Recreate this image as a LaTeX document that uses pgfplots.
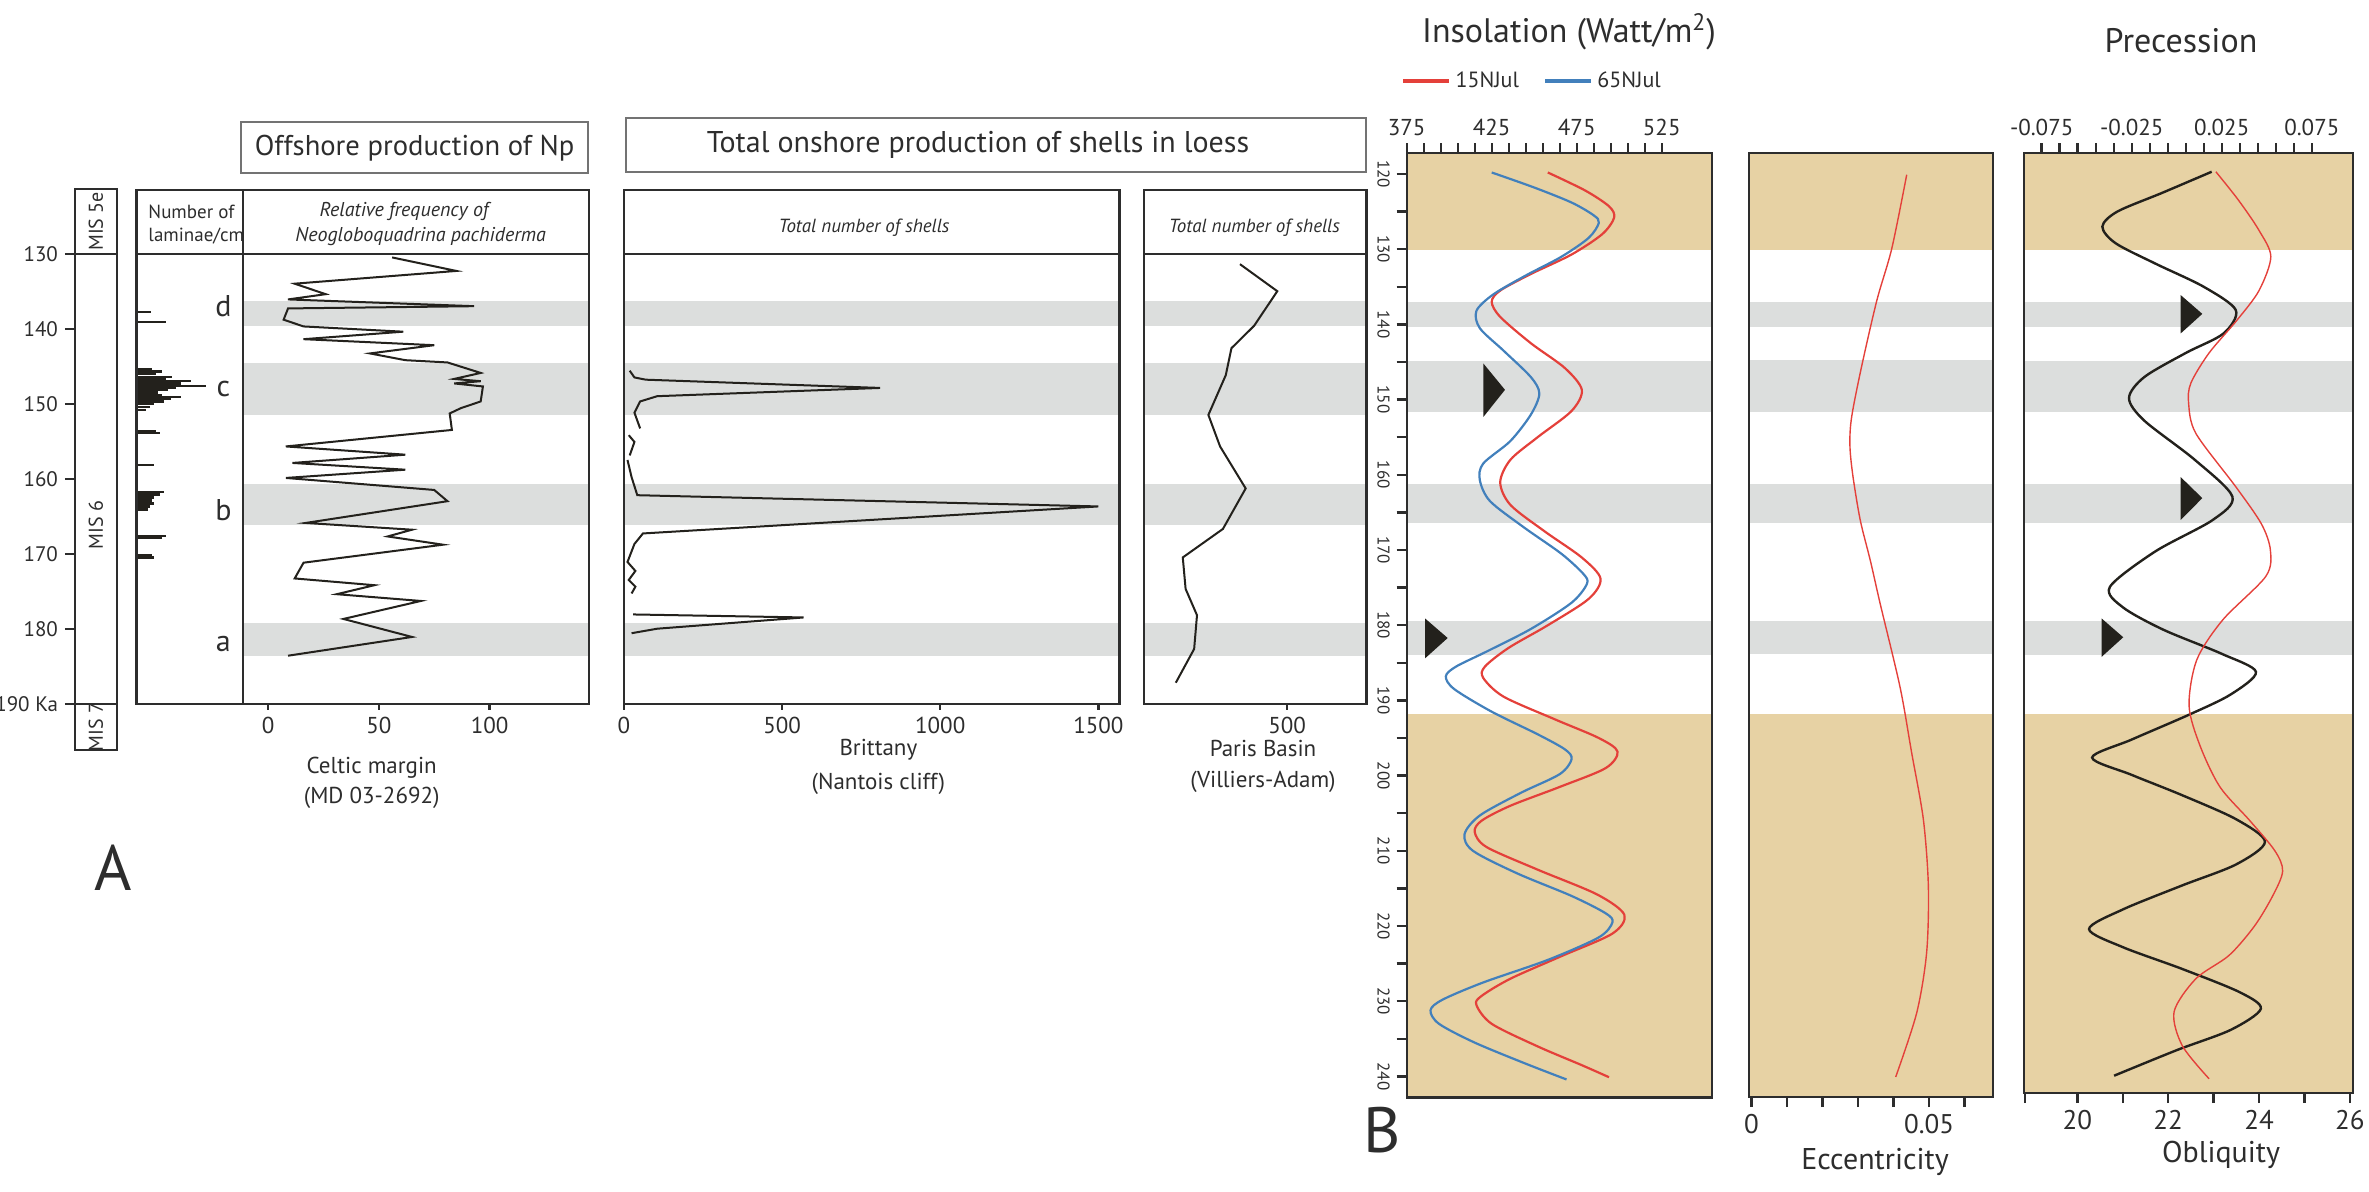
\documentclass[border=0pt]{standalone}
\usepackage{pgfplots}
\pgfplotsset{compat=1.18}
\usepackage{fontspec}
\setmainfont{PT Sans}
\definecolor{tanbg}{RGB}{231,210,164}
\definecolor{band}{RGB}{220,222,221}
\definecolor{boxc}{RGB}{45,45,45}
\definecolor{txt}{RGB}{45,45,45}
\definecolor{redc}{RGB}{228,64,58}
\definecolor{bluec}{RGB}{66,128,188}
\definecolor{blackc}{RGB}{35,33,28}
\newcommand{\fs}[1]{\fontsize{#1}{#1}\selectfont}
\newcommand{\bandsA}[2]{%
\addplot[forget plot, draw=none, fill=band] coordinates {(#1,136.3) (#2,136.3) (#2,139.7) (#1,139.7)} -- cycle;
\addplot[forget plot, draw=none, fill=band] coordinates {(#1,144.6) (#2,144.6) (#2,151.5) (#1,151.5)} -- cycle;
\addplot[forget plot, draw=none, fill=band] coordinates {(#1,160.7) (#2,160.7) (#2,166.2) (#1,166.2)} -- cycle;
\addplot[forget plot, draw=none, fill=band] coordinates {(#1,179.2) (#2,179.2) (#2,183.6) (#1,183.6)} -- cycle;
\addplot[forget plot, boxc, line width=1.1pt] coordinates {(#1,130) (#2,130)};
}
\newcommand{\bandsB}[2]{%
\addplot[forget plot, draw=none, fill=tanbg] coordinates {(#1,116) (#2,116) (#2,130.1) (#1,130.1)} -- cycle;
\addplot[forget plot, draw=none, fill=tanbg] coordinates {(#1,191.8) (#2,191.8) (#2,244) (#1,244)} -- cycle;
\addplot[forget plot, draw=none, fill=band] coordinates {(#1,137.0) (#2,137.0) (#2,140.4) (#1,140.4)} -- cycle;
\addplot[forget plot, draw=none, fill=band] coordinates {(#1,144.8) (#2,144.8) (#2,151.6) (#1,151.6)} -- cycle;
\addplot[forget plot, draw=none, fill=band] coordinates {(#1,161.2) (#2,161.2) (#2,166.4) (#1,166.4)} -- cycle;
\addplot[forget plot, draw=none, fill=band] coordinates {(#1,179.5) (#2,179.5) (#2,183.9) (#1,183.9)} -- cycle;
}
\pgfplotsset{
 panel/.style={anchor=north west, scale only axis, y dir=reverse, axis on top,
  axis line style={draw=boxc, line width=1.1pt},
  tick style={draw=boxc, line width=1.2pt},
  tick align=outside, scaled x ticks=false, scaled y ticks=false,
  ticklabel style={text=txt},
  /pgf/number format/assume math mode=true,
  /pgf/number format/1000 sep={},
  xtick=\empty, ytick=\empty},
}
\begin{document}
\begin{tikzpicture}
\path[use as bounding box] (0pt,0pt) rectangle (1184.5pt,-596pt);

% ---------------- MIS column
\begin{axis}[panel, at={(37.5pt,-94.5pt)}, width=21pt, height=280.5pt,
 xmin=0, xmax=1, ymin=121.37, ymax=196.17,
 ytick={130,140,150,160,170,180,190}, yticklabels={130,140,150,160,170,180,190 Ka},
 ytick pos=left, major tick length=5pt, yticklabel style={font=\fs{10.5}}]
\addplot[boxc, line width=1.1pt] coordinates {(0,130) (1,130)};
\addplot[boxc, line width=1.1pt] coordinates {(0,190) (1,190)};
\node[rotate=90, font=\fs{10}, text=txt] at (axis cs:0.5,125.7) {MIS 5e};
\node[rotate=90, font=\fs{10}, text=txt] at (axis cs:0.5,166.2) {MIS 6};
\node[rotate=90, font=\fs{10}, text=txt] at (axis cs:0.5,193.1) {MIS 7};
\end{axis}

% ---------------- laminae
\begin{axis}[panel, at={(68.2pt,-95.15pt)}, width=53.4pt, height=256.7pt,
 xmin=0, xmax=106.8, ymin=121.55, ymax=190]
\addplot[boxc, line width=1.1pt] coordinates {(0,130) (106.8,130)};
\addplot[xcomb, blackc, line width=1.1pt, mark=none] coordinates {
(15,137.8) (30,139.1) (16,145.4) (26,145.7) (20,146.0) (36,146.4) (30,146.7) (55,147.0)
(45,147.3) (70,147.6) (40,147.9) (32,148.2) (22,148.5) (26,148.8) (45,149.1) (35,149.4)
(28,149.7) (18,150.0) (14,150.4) (10,150.8) (20,153.6) (24,153.9) (18,158.2) (28,161.8)
(24,162.1) (18,162.5) (16,162.9) (18,163.3) (14,163.7) (12,164.1) (30,167.6) (26,167.9)
(16,170.2) (18,170.5)};
\node[anchor=west, font=\fs{9.5}, text=txt] at (axis cs:5,124.4) {Number of};
\node[anchor=west, font=\fs{9.5}, text=txt] at (axis cs:5,127.7) {laminae/cm};
\node[font=\fs{15}, text=txt] at (axis cs:87,137.0) {d};
\node[font=\fs{15}, text=txt] at (axis cs:87,148.0) {c};
\node[font=\fs{15}, text=txt] at (axis cs:87,164.2) {b};
\node[font=\fs{15}, text=txt] at (axis cs:87,182.0) {a};
\end{axis}

% ---------------- Celtic margin
\begin{axis}[panel, at={(121.6pt,-95.15pt)}, width=173pt, height=256.7pt,
 xmin=-11.25, xmax=145, ymin=121.55, ymax=190,
 xtick={0,50,100}, xtick pos=left, major tick length=3pt, xticklabel style={font=\fs{11.5}}]
\bandsA{-11.25}{145}
\addplot[blackc, line width=1pt] coordinates {
(56,130.5) (85,132.3) (12,134.0) (26,135.4) (9,136.1) (93,137.0) (9,137.3) (7,138.8)
(16,139.7) (61,140.4) (16,141.4) (75,142.2) (46,143.3) (62,144.2) (81,144.5) (96,145.9)
(84,146.7) (96,147.0) (84,147.3) (97,147.7) (96,149.7) (87,150.6) (82,151.3) (83,153.5)
(8,155.7) (62,156.8) (11,157.9) (62,158.8) (8,159.9) (75,161.5) (81,163.0) (17,165.9)
(65,166.8) (54,167.7) (79,168.8) (16,171.2) (12,173.3) (48,174.2) (31,175.4) (69,176.3)
(34,178.7) (65,181.1) (9,183.6)};
\node[font=\itshape\fs{10}, text=txt] at (axis cs:61.4,124.4) {Relative frequency of};
\node[font=\itshape\fs{10}, text=txt] at (axis cs:68.9,127.7) {Neogloboquadrina pachiderma};
\end{axis}

% ---------------- Brittany
\begin{axis}[panel, at={(312pt,-95.15pt)}, width=247.75pt, height=256.7pt,
 xmin=0, xmax=1567, ymin=121.55, ymax=190,
 xtick={0,500,1000,1500}, xtick pos=left, major tick length=3pt, xticklabel style={font=\fs{11.5}}]
\bandsA{0}{1567}
\addplot[blackc, line width=1pt] coordinates {(18,145.6) (33,146.5) (69,146.8) (810,147.9) (105,149.0) (51,149.7) (33,151.2) (51,153.3)};
\addplot[blackc, line width=1pt] coordinates {(15,154.2) (33,155.1) (18,156.9)};
\addplot[blackc, line width=1pt] coordinates {(11,157.5) (24,159.8) (42,162.2) (1500,163.7) (60,167.3) (33,168.7) (11,171.1) (36,172.3) (15,173.5) (36,174.4) (24,175.3)};
\addplot[blackc, line width=1pt] coordinates {(29,178.1) (568,178.5) (105,180.0) (24,180.6)};
\node[font=\itshape\fs{9.5}, text=txt] at (axis cs:759,126.6) {Total number of shells};
\end{axis}

% ---------------- Paris Basin
\begin{axis}[panel, at={(572.1pt,-95.15pt)}, width=111.1pt, height=256.7pt,
 xmin=48, xmax=751, ymin=121.55, ymax=190,
 xtick={500}, xtick pos=left, major tick length=3pt, xticklabel style={font=\fs{11.5}}]
\bandsA{48}{751}
\addplot[blackc, line width=1pt] coordinates {
(351,131.4) (469,135.0) (396,139.6) (324,142.6) (306,146.2) (251,151.5) (288,155.7)
(369,161.3) (297,166.7) (170,170.5) (179,174.7) (215,178.2) (206,182.7) (148,187.2)};
\node[font=\itshape\fs{9.5}, text=txt] at (axis cs:396.5,126.6) {Total number of shells};
\end{axis}

% ---------------- Insolation
\begin{axis}[panel, at={(703.35pt,-76.65pt)}, width=152.5pt, height=472.1pt,
 xmin=375, xmax=554.4, ymin=117.25, ymax=242.8,
 xtick={375,425,475,525}, minor xtick={385,395,405,415,435,445,455,465,485,495,505,515},
 xtick pos=right, xticklabel pos=right,
 ytick={120,130,140,150,160,170,180,190,200,210,220,230,240},
 minor ytick={125,135,145,155,165,175,185,195,205,215,225,235}, ytick pos=left,
 major tick length=5pt, minor tick length=5pt,
 xticklabel style={font=\fs{11.5}}, yticklabel style={font=\fs{8.5}, rotate=-90, anchor=north},
 legend style={at={(0.414,1.0766)}, anchor=center, draw=none, fill=none, font=\fs{11},
  text=txt, legend columns=2, /tikz/every even column/.append style={column sep=10pt}},
 legend image code/.code={\draw[#1, line width=2.2pt] (0pt,0pt) -- (23pt,0pt);}]
\bandsB{375}{554.4}
\addplot[forget plot, fill=blackc, draw=none] coordinates {(420.1,145.2) (432.8,148.7) (420.1,152.3)} -- cycle;
\addplot[forget plot, fill=blackc, draw=none] coordinates {(385.8,179.1) (399.1,181.7) (385.8,184.4)} -- cycle;
\addplot[redc, line width=1.1pt, smooth] coordinates {
(458,119.8) (480,122.2) (494,124.3) (497,125.8) (490,128) (472,130.7) (448,133.3) (430,135.5)
(425,137) (430,139) (448,142.5) (468,145.8) (478,148.7) (472,151.5) (452,155) (436,158)
(430,161) (436,164) (456,167.5) (478,171) (489,173.8) (482,176.5) (458,180) (435,183)
(421,185.5) (420,187) (432,189.5) (462,192.5) (488,195) (499,196.8) (492,199) (465,201.5)
(436,204) (419,206) (415,207.5) (422,209.5) (452,212.5) (487,215.8) (503,218.5) (496,221)
(466,224) (436,227) (419,229.3) (416,230.5) (425,233) (452,236) (478,238.5) (494,240.1)};
\addlegendentry{15NJul}
\addplot[bluec, line width=1.1pt, smooth] coordinates {
(425,119.8) (450,121.8) (472,123.8) (485,125.5) (488,126.5) (482,128.5) (466,131) (445,133.5)
(426,136) (416,138.2) (418,140.5) (432,143.5) (448,147) (453,149.2) (448,152) (436,155.5)
(420,158.5) (418,160.7) (424,163.5) (444,167) (466,170.5) (479,173.2) (481,174.5) (472,177)
(448,180.5) (422,183.5) (404,185.5) (398,186.8) (403,188.5) (425,191.5) (452,194.5) (468,196.5)
(472,197.8) (465,199.8) (442,202.3) (418,205.3) (409,207.8) (414,210) (440,213) (472,216)
(492,218.3) (496,219.5) (488,221.5) (458,224.5) (420,227.5) (396,229.8) (389,231.2) (394,233)
(415,235.5) (445,238.3) (469,240.4)};
\addlegendentry{65NJul}
\end{axis}

% ---------------- Eccentricity
\begin{axis}[panel, at={(874.5pt,-76.65pt)}, width=122pt, height=471.85pt,
 xmin=-0.0007, xmax=0.068, ymin=117.25, ymax=242.77,
 xtick={0,0.01,0.02,0.03,0.04,0.05,0.06}, xticklabels={0,,,,,0.05,},
 xtick pos=left, major tick length=5pt, xticklabel style={font=\fs{13.5}}]
\bandsB{-0.0007}{0.068}
\addplot[redc, line width=0.7pt, smooth] coordinates {
(0.0437,120.1) (0.0395,129.9) (0.0353,136.8) (0.0310,145.6) (0.0282,152.3) (0.0277,156)
(0.0285,160) (0.0306,166.0) (0.0335,171.5) (0.0362,177.1) (0.0418,188.2) (0.0451,197.0)
(0.0484,205.9) (0.0498,214.8) (0.0493,223.6) (0.0465,231.6) (0.0406,240.1)};
\end{axis}

% ---------------- Precession
\begin{axis}[panel, at={(1012pt,-76.65pt)}, width=164.5pt, height=469.85pt,
 xmin=-0.0848, xmax=0.0979, ymin=117.25, ymax=242.2,
 xtick={-0.075,-0.025,0.025,0.075}, xticklabels={-0.075,-0.025,0.025,0.075},
 minor xtick={-0.065,-0.055,-0.045,-0.035,-0.015,-0.005,0.005,0.015,0.035,0.045,0.055,0.065},
 xtick pos=right, xticklabel pos=right, major tick length=5pt, minor tick length=5pt,
 xticklabel style={font=\fs{11.5}}]
\bandsB{-0.0848}{0.0979}
\addplot[forget plot, fill=blackc, draw=none] coordinates {(0.0022,136.1) (0.0142,138.6) (0.0022,141.2)} -- cycle;
\addplot[forget plot, fill=blackc, draw=none] coordinates {(0.0022,160.3) (0.0142,163.1) (0.0022,166.0)} -- cycle;
\addplot[forget plot, fill=blackc, draw=none] coordinates {(-0.0417,179.1) (-0.0297,181.6) (-0.0417,184.2)} -- cycle;
\addplot[blackc, line width=1.2pt, smooth] coordinates {
(0.0194,119.7) (-0.008,122.5) (-0.033,125.0) (-0.0413,127.0) (-0.034,129.2) (-0.012,131.9)
(0.015,135.0) (0.0328,138.1) (0.026,141.2) (0.005,143.8) (-0.018,147.0) (-0.0265,149.8)
(-0.018,152.8) (0.010,158.0) (0.0309,162.9) (0.020,166.0) (-0.012,170.2) (-0.0371,174.9)
(-0.030,177.6) (-0.0074,180.6) (0.025,183.8) (0.044,186.2) (0.030,189.2) (0.0068,191.9)
(-0.025,195.2) (-0.047,197.6) (-0.025,199.9) (0.003,202.6) (0.033,205.8) (0.049,208.8)
(0.033,211.8) (0.003,214.6) (-0.030,217.8) (-0.0487,220.4) (-0.030,222.8) (0.003,225.7)
(0.035,228.8) (0.0467,231.0) (0.030,233.8) (0.000,236.5) (-0.0348,239.9)};
\end{axis}
% ---------------- Obliquity (same box)
\begin{axis}[panel, at={(1012pt,-76.65pt)}, width=164.5pt, height=469.85pt,
 xmin=18.826, xmax=26.07, ymin=117.25, ymax=242.2,
 xtick={18.85,20,21,22,23,24,25,26}, xticklabels={,20,,22,,24,,26},
 xtick pos=left, major tick length=5pt, xticklabel style={font=\fs{13.5}}]
\addplot[redc, line width=0.7pt, smooth] coordinates {
(23.05,119.7) (23.55,123.5) (24.0,127.5) (24.26,131.0) (24.0,135.5) (23.52,139.4) (22.9,143.8)
(22.50,147.8) (22.45,150.5) (22.61,154.5) (23.49,161.6) (24.05,166.5) (24.25,170.0) (24.15,173.5)
(23.2,179.3) (22.63,184.6) (22.46,190.7) (22.7,196) (23.14,201.5) (23.8,206) (24.35,210)
(24.52,212.7) (24.3,216) (23.9,220) (23.34,223.9) (22.61,227.0) (22.13,231.4) (22.31,235.9) (22.9,240.3)};
\end{axis}

% ---------------- free text and title boxes (pixel units)
\begin{scope}[x=0.5pt, y=-0.5pt]
\draw[black!55, line width=0.8pt] (241,122) rectangle (588,173);
\node[font=\fs{14.3}, text=txt] at (414.6,148) {Offshore production of Np};
\draw[black!55, line width=0.8pt] (626,118) rectangle (1366,172);
\node[font=\fs{15}, text=txt] at (978,145) {Total onshore production of shells in loess};
\node[font=\fs{11.5}, text=txt] at (371.7,768) {Celtic margin};
\node[font=\fs{11.5}, text=txt] at (371.7,798) {(MD 03-2692)};
\node[font=\fs{11.5}, text=txt] at (878.4,750) {Brittany};
\node[font=\fs{11.5}, text=txt] at (878.4,784) {(Nantois cliff)};
\node[font=\fs{11.5}, text=txt] at (1263,748) {Paris Basin};
\node[font=\fs{11.5}, text=txt] at (1263,782) {(Villiers-Adam)};
\node[font=\fs{32}, text=txt] at (113,868) {A};
\node[font=\fs{32}, text=txt] at (1382,1130) {B};
\node[font=\fs{17}, text=txt] at (1569,32) {Insolation (Watt/m\textsuperscript{2})};
\node[font=\fs{17}, text=txt] at (2181,41) {Precession};
\node[font=\fs{15}, text=txt] at (1875,1162) {Eccentricity};
\node[font=\fs{15}, text=txt] at (2221,1155) {Obliquity};
\end{scope}
\end{tikzpicture}
\end{document}
